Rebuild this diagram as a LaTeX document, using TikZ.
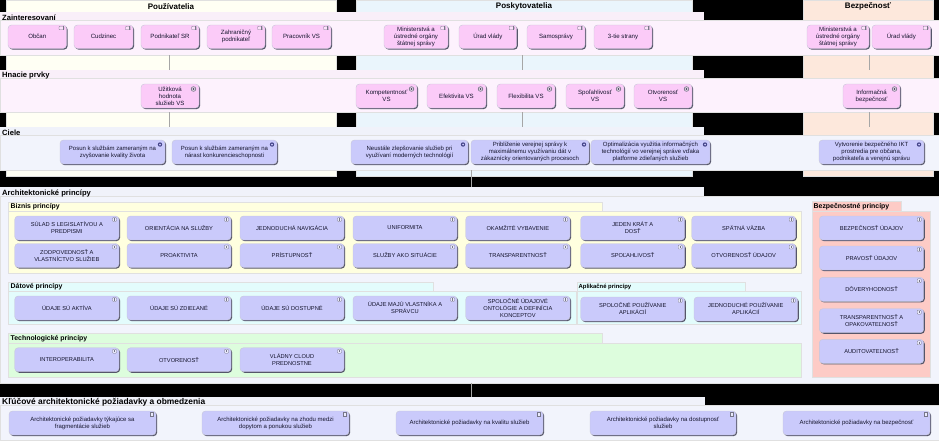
\documentclass[tikz,border=0pt]{standalone}
\usepackage{fontspec}
\setmainfont{Liberation Sans}
\usetikzlibrary{shadows,calc}
\definecolor{cUser}{HTML}{FFFFF4}
\definecolor{cProv}{HTML}{EAF5FC}
\definecolor{cSec}{HTML}{FDE8DC}
\definecolor{cPinkLane}{HTML}{FDF2FD}
\definecolor{cPinkTab}{HTML}{F9EFF9}
\definecolor{cBlueLane}{HTML}{F2F4FC}
\definecolor{cBlueTab}{HTML}{F0F2FA}
\definecolor{cPink}{HTML}{FBCBF8}
\definecolor{cLav}{HTML}{CACAFB}
\definecolor{cYel}{HTML}{FFFFDF}
\definecolor{cCyan}{HTML}{E3FCFC}
\definecolor{cGreen}{HTML}{DDFDDD}
\definecolor{cRed}{HTML}{FDCBC6}
\definecolor{cEdge}{HTML}{C8C8D8}
\definecolor{cShade}{HTML}{55556A}
\definecolor{cInk}{HTML}{14142C}
\tikzset{
  x=1pt,y=-1pt,
  plain/.style={inner sep=0pt,outer sep=0pt,draw=none},
  region/.style={plain,draw=black!12,line width=0.25pt,fill=#1},
  item/.style={plain,draw=cEdge,line width=0.4pt,rounded corners=3.5pt,fill=#1,text=cInk,align=center,
    font=\fontsize{5.7}{7}\selectfont,
    general shadow={shadow xshift=1.1pt,shadow yshift=-1.1pt,fill=cShade}},
  pinkitem/.style={item=cPink,font=\fontsize{6.1}{7}\selectfont},
  lavitem/.style={item=cLav},
  textitem/.style={item=cLav,font=\fontsize{6}{7}\selectfont},
  coltitle/.style={inner sep=0pt,font=\bfseries\fontsize{8}{9}\selectfont,text=black},
  lanetitle/.style={anchor=west,inner sep=0pt,font=\bfseries\fontsize{7.6}{9}\selectfont,text=black},
  subtitle/.style={anchor=west,inner sep=0pt,font=\bfseries\fontsize{6.9}{8}\selectfont,text=black},
  conn/.style={draw=black!35,line width=0.5pt},
  iconline/.style={draw=cShade!80,line width=0.35pt},
}
% name, x1, y1, x2, y2, style, text
\newcommand{\bx}[7]{\node[#6,minimum width={(#4-#2)*1pt},minimum height={(#5-#3)*1pt}] (#1) at ({(#2+#4)/2},{(#3+#5)/2}) {#7};}
\newcommand{\stakeicon}[1]{\draw[iconline,fill=cPink!60!white,rounded corners=0.8pt] ([shift={(-7.5,1.2)}]#1.north east) rectangle ([shift={(-2.5,4.8)}]#1.north east);
  \draw[iconline] ([shift={(-3.8,1.2)}]#1.north east) -- ([shift={(-3.8,4.8)}]#1.north east);}
\newcommand{\driveicon}[1]{\draw[iconline,fill=cPink!40!white,line width=0.7pt] ([shift={(-5.5,5)}]#1.north east) circle[radius=2.3pt];
  \fill[cShade] ([shift={(-5.5,5)}]#1.north east) circle[radius=1.1pt];}
\newcommand{\goalicon}[1]{\fill[cShade!80!blue] ([shift={(-5,4.5)}]#1.north east) circle[radius=2.2pt];
  \fill[cLav] ([shift={(-5,4.5)}]#1.north east) circle[radius=1pt];}
\newcommand{\prinicon}[1]{\draw[iconline,fill=cLav!40!white,rounded corners=0.8pt] ([shift={(-6.5,1.5)}]#1.north east) rectangle ([shift={(-2.5,5.5)}]#1.north east);
  \draw[iconline] ([shift={(-4.5,2.3)}]#1.north east) -- ([shift={(-4.5,4.7)}]#1.north east);}
\newcommand{\reqicon}[1]{\draw[iconline,fill=cLav!40!white] ([shift={(-6,1.5)}]#1.north east) rectangle ([shift={(-2.5,5.5)}]#1.north east);}
\begin{document}
\begin{tikzpicture}
\useasboundingbox (0,0) rectangle (939,440);
\fill[black] (0,0) rectangle (939,440);
% columns
\bx{colA}{6}{0}{336}{176}{region=cUser}{}
\bx{colB}{356}{0}{692}{176}{region=cProv}{}
\bx{colC}{803}{0}{933}{176}{region=cSec}{}
\node[coltitle] (colAt) at (171,6.5) {Používatelia};
\node[coltitle] (colBt) at (524,6.5) {Poskytovatelia};
\node[coltitle] (colCt) at (868,6.5) {Bezpečnosť};
% lanes
\bx{zTab}{0}{12}{704}{20.5}{plain,fill=cPinkTab}{}
\bx{zBody}{0}{20.5}{939}{55.3}{region=cPinkLane}{}
\node[lanetitle] (zT) at (2,17.6) {Zainteresovaní};
\bx{hTab}{0}{69.5}{704}{78.5}{plain,fill=cPinkTab}{}
\bx{hBody}{0}{78.5}{939}{112.3}{region=cPinkLane}{}
\node[lanetitle] (hT) at (2,75.5) {Hnacie prvky};
\bx{cTab}{0}{127.3}{704}{135.3}{plain,fill=cBlueTab}{}
\bx{cBody}{0}{135.3}{939}{170}{region=cBlueLane}{}
\node[lanetitle] (cT) at (2,133) {Ciele};
\bx{aTab}{0}{187}{704}{196}{plain,fill=cBlueTab}{}
\bx{aBody}{0}{196}{939}{382.7}{region=cBlueLane}{}
\node[lanetitle] (aT) at (2,193) {Architektonické princípy};
\bx{kTab}{0}{396.7}{705}{405}{plain,fill=cBlueTab}{}
\bx{kBody}{0}{405}{939}{440}{region=cBlueLane}{}
\node[lanetitle,font=\bfseries\fontsize{8.4}{9}\selectfont] (kT) at (2,402) {Kľúčové architektonické požiadavky a obmedzenia};
% connector guide coordinates
\coordinate (g1) at (169,0);
\coordinate (g2) at (522,0);
\coordinate (g3) at (869,0);
\coordinate (g4) at (471,0);
\coordinate (g3a) at (869,70);
\coordinate (g3b) at (869,127.3);
\draw[conn] (zBody.south -| g1) -- (hTab.north -| g1);
\draw[conn] (zBody.south -| g2) -- (hTab.north -| g2);
\draw[conn] (zBody.south -| g3) -- (g3a);
\draw[conn] (hBody.south -| g1) -- (cTab.north -| g1);
\draw[conn] (hBody.south -| g2) -- (cTab.north -| g2);
\draw[conn] (hBody.south -| g3) -- (g3b);
\draw[conn] (cBody.south -| g4) -- (aTab.north -| g4);
\draw[conn] (aBody.south -| g4) -- (kTab.north -| g4);
% sub-groups
\bx{bizTab}{8}{201.7}{602.5}{211}{region=cYel}{}
\bx{bizBody}{8}{211}{800.7}{273}{region=cYel}{}
\node[subtitle] (bizT) at (10.5,207) {Biznis princípy};
\bx{datTab}{8}{281.7}{432.7}{291}{region=cCyan}{}
\bx{datBody}{8}{291}{576}{324.5}{region=cCyan}{}
\node[subtitle] (datT) at (10.5,287) {Dátové princípy};
\bx{aplTab}{577.3}{281.7}{745}{291}{region=cCyan}{}
\bx{aplBody}{577.3}{291}{800.7}{324.5}{region=cCyan}{}
\node[subtitle,font=\bfseries\fontsize{5.9}{7}\selectfont] (aplT) at (578.5,287) {Aplikačné princípy};
\bx{tecTab}{8}{333}{602.5}{343}{region=cGreen}{}
\bx{tecBody}{8}{343}{800.7}{376.7}{region=cGreen}{}
\node[subtitle] (tecT) at (10.5,339) {Technologické princípy};
\bx{secTab}{812.3}{201.5}{900.7}{210.7}{region=cRed}{}
\bx{secBody}{812.3}{210.7}{930}{376.7}{region=cRed}{}
\node[subtitle] (secT) at (813.5,207) {Bezpečnostné princípy};
% stakeholders
\bx{s1}{8}{25}{66.5}{48.5}{pinkitem}{Občan}
\bx{s2}{74}{25}{133}{48.5}{pinkitem}{Cudzinec}
\bx{s3}{141}{25}{199}{48.5}{pinkitem}{Podnikateľ SR}
\bx{s4}{207}{25}{265}{48.5}{pinkitem}{Zahraničný\\podnikateľ}
\bx{s5}{272}{25}{331}{48.5}{pinkitem}{Pracovník VS}
\bx{s6}{384}{25}{448}{48.5}{pinkitem}{Ministerstvá a\\ústredné orgány\\štátnej správy}
\bx{s7}{459}{25}{516.7}{48.5}{pinkitem}{Úrad vlády}
\bx{s8}{527}{25}{585}{48.5}{pinkitem}{Samosprávy}
\bx{s9}{594}{25}{652}{48.5}{pinkitem}{3-tie strany}
\bx{s10}{807}{25}{869}{48.5}{pinkitem}{Ministerstvá a\\ústredné orgány\\štátnej správy}
\bx{s11}{872}{25}{930.7}{48.5}{pinkitem}{Úrad vlády}
\foreach \n in {s1,s2,s3,s4,s5,s6,s7,s8,s9,s10,s11}{\stakeicon{\n}}
% drivers
\bx{d1}{141}{84}{199}{108}{pinkitem}{Užitková\\hodnota\\služieb VS}
\bx{d2}{356}{84}{417}{108}{pinkitem}{Kompetentnosť\\VS}
\bx{d3}{427}{84}{486}{108}{pinkitem}{Efektivita VS}
\bx{d4}{497}{84}{555}{108}{pinkitem}{Flexibilita VS}
\bx{d5}{566}{84}{624}{108}{pinkitem}{Spoľahlivosť\\VS}
\bx{d6}{634}{84}{692}{108}{pinkitem}{Otvorenosť\\VS}
\bx{d7}{843}{84}{900}{108}{pinkitem}{Informačná\\bezpečnosť}
\foreach \n in {d1,d2,d3,d4,d5,d6,d7}{\driveicon{\n}}
% goals
\bx{g-1}{60}{140}{165}{164}{textitem}{Posun k službám zameraným na\\zvyšovanie kvality života}
\bx{g-2}{172}{140}{277}{164}{textitem}{Posun k službám zameraným na\\nárast konkurencieschopnosti}
\bx{g-3}{351}{140}{468}{164}{textitem}{Neustále zlepšovanie služieb pri\\využívaní moderných technológií}
\bx{g-4}{471}{140}{589}{164}{textitem}{Približenie verejnej správy k\\maximálnemu využívaniu dát v\\zákaznícky orientovaných procesoch}
\bx{g-5}{591}{140}{710}{164}{textitem}{Optimalizácia využitia informačných\\technológií vo verejnej správe vďaka\\platforme zdieľaných služieb}
\bx{g-6}{819}{140}{924}{164}{textitem}{Vytvorenie bezpečného IKT\\prostredia pre občana,\\podnikateľa a verejnú správu}
\foreach \n in {g-1,g-2,g-3,g-4,g-5,g-6}{\goalicon{\n}}
% business principles
\bx{p1}{14.7}{216}{119}{240}{lavitem}{SÚLAD S LEGISLATÍVOU A\\PREDPISMI}
\bx{p2}{127}{216}{231}{240}{lavitem}{ORIENTÁCIA NA SLUŽBY}
\bx{p3}{240}{216}{344}{240}{lavitem}{JEDNODUCHÁ NAVIGÁCIA}
\bx{p4}{353}{216}{457}{240}{lavitem}{UNIFORMITA}
\bx{p5}{465.7}{216}{570}{240}{lavitem}{OKAMŽITÉ VYBAVENIE}
\bx{p6}{580.7}{216}{684.7}{240}{lavitem}{JEDEN KRÁT A\\DOSŤ}
\bx{p7}{691.7}{216}{795.7}{240}{lavitem}{SPÄTNÁ VÄZBA}
\bx{p8}{14.7}{243.5}{119}{267.5}{lavitem}{ZODPOVEDNOSŤ A\\VLASTNÍCTVO SLUŽIEB}
\bx{p9}{127}{243.5}{231}{267.5}{lavitem}{PROAKTIVITA}
\bx{p10}{240}{243.5}{344}{267.5}{lavitem}{PRÍSTUPNOSŤ}
\bx{p11}{353}{243.5}{457}{267.5}{lavitem}{SLUŽBY AKO SITUÁCIE}
\bx{p12}{465.7}{243.5}{570}{267.5}{lavitem}{TRANSPARENTNOSŤ}
\bx{p13}{580.7}{243.5}{684.7}{267.5}{lavitem}{SPOĽAHLIVOSŤ}
\bx{p14}{691.7}{243.5}{795.7}{267.5}{lavitem}{OTVORENOSŤ ÚDAJOV}
% data principles
\bx{p15}{14.7}{296}{119}{320}{lavitem}{ÚDAJE SÚ AKTÍVA}
\bx{p16}{127}{296}{231}{320}{lavitem}{ÚDAJE SÚ ZDIEĽANÉ}
\bx{p17}{240}{296}{344}{320}{lavitem}{ÚDAJE SÚ DOSTUPNÉ}
\bx{p18}{353}{296}{457}{320}{lavitem}{ÚDAJE MAJÚ VLASTNÍKA A\\SPRÁVCU}
\bx{p19}{465.7}{296}{570}{320}{lavitem}{SPOLOČNÉ ÚDAJOVÉ\\ONTOLÓGIE A DEFINÍCIA\\KONCEPTOV}
% application principles
\bx{p20}{580.7}{297}{684.7}{321}{lavitem}{SPOLOČNÉ POUŽÍVANIE\\APLIKÁCIÍ}
\bx{p21}{694}{297}{797.7}{321}{lavitem}{JEDNODUCHÉ POUŽÍVANIE\\APLIKÁCIÍ}
% technology principles
\bx{p22}{14.7}{347.7}{119}{371.7}{lavitem}{INTEROPERABILITA}
\bx{p23}{127}{347.7}{231}{371.7}{lavitem}{OTVORENOSŤ}
\bx{p24}{240}{347.7}{344}{371.7}{lavitem}{VLÁDNY CLOUD\\PREDNOSTNE}
% security principles
\bx{p25}{819.3}{216}{923.7}{240}{lavitem}{BEZPEČNOSŤ ÚDAJOV}
\bx{p26}{819.3}{246}{923.7}{270}{lavitem}{PRAVOSŤ ÚDAJOV}
\bx{p27}{819.3}{277.3}{923.7}{301.3}{lavitem}{DÔVERYHODNOSŤ}
\bx{p28}{819.3}{308.7}{923.7}{332.7}{lavitem}{TRANSPARENTNOSŤ A\\OPAKOVATEĽNOSŤ}
\bx{p29}{819.3}{339.3}{923.7}{363.3}{lavitem}{AUDITOVATEĽNOSŤ}
\foreach \n in {p1,p2,p3,p4,p5,p6,p7,p8,p9,p10,p11,p12,p13,p14,p15,p16,p17,p18,p19,p20,p21,p22,p23,p24,p25,p26,p27,p28,p29}{\prinicon{\n}}
% requirements
\bx{r1}{9}{411}{156}{435}{textitem}{Architektonické požiadavky týkajúce sa\\fragmentácie služieb}
\bx{r2}{202}{411}{349}{435}{textitem}{Architektonické požiadavky na zhodu medzi\\dopytom a ponukou služieb}
\bx{r3}{396}{411}{543}{435}{textitem}{Architektonické požiadavky na kvalitu služieb}
\bx{r4}{590}{411}{736}{435}{textitem}{Architektonické požiadavky na dostupnosť\\služieb}
\bx{r5}{783}{411}{930}{435}{textitem}{Architektonické požiadavky na bezpečnosť}
\foreach \n in {r1,r2,r3,r4,r5}{\reqicon{\n}}
\end{tikzpicture}
\end{document}
